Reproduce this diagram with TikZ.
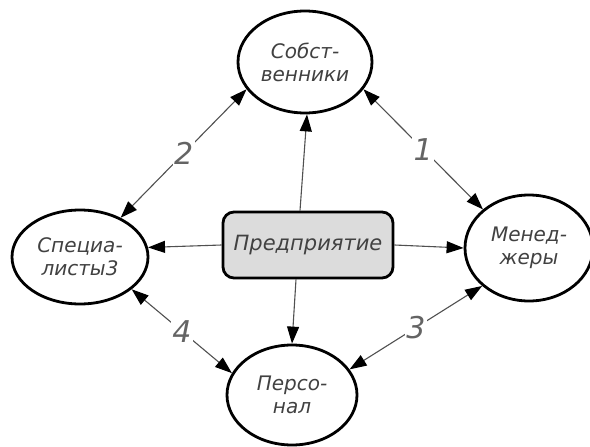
\documentclass[tikz,border=0pt]{standalone}
\usepackage{fontspec}
\setmainfont{DejaVu Sans}
\usetikzlibrary{shapes.geometric,arrows.meta}
\definecolor{txtgray}{RGB}{65,65,65}
\definecolor{linegray}{RGB}{80,80,80}
\definecolor{boxfill}{RGB}{220,220,220}
\definecolor{numgray}{RGB}{100,100,100}
\tikzset{
  party/.style={ellipse, draw=black, line width=2.8pt, fill=white, inner sep=0pt,
    align=center, text=txtgray, font=\fontsize{20}{23}\selectfont\itshape},
  centerbox/.style={rectangle, rounded corners=11pt, draw=black, line width=2.8pt,
    fill=boxfill, minimum width=170pt, minimum height=66pt, inner sep=0pt,
    text=txtgray, font=\fontsize{21}{24}\selectfont\itshape},
  conn/.style={draw=linegray, line width=1.1pt,
    -{Triangle[length=17pt,width=12pt,fill=black,color=black]}},
  dconn/.style={draw=linegray, line width=1.1pt,
    {Triangle[length=17pt,width=12pt,fill=black,color=black]}-{Triangle[length=17pt,width=12pt,fill=black,color=black]}},
  lbl/.style={fill=white, inner sep=1.5pt, text=numgray, font=\fontsize{30}{32}\selectfont\itshape}
}
\begin{document}
\begin{tikzpicture}[x=1pt,y=-1pt]
\useasboundingbox (0,0) rectangle (590,447);
\node[party, minimum width=134pt, minimum height=102pt] (S) at (305,62) {Собст-\\венники};
\node[party, minimum width=136pt, minimum height=94pt] (Sp) at (80,257) {Специа-\\листы3};
\node[party, minimum width=128pt, minimum height=106pt] (M) at (529,248) {Менед-\\жеры};
\node[party, minimum width=130pt, minimum height=100pt] (P) at (292,395) {Персо-\\нал};
\node[centerbox] (R) at (308,245) {Предприятие};

\draw[conn] ([xshift=-8pt]R.north) -- ([xshift=2pt]S.south);
\draw[conn] (R.west) -- (Sp.8);
\draw[conn] (R.east) -- (M.west);
\draw[conn] ([xshift=-12pt]R.south) -- (P.north);

\draw[dconn] (S.205) -- node[lbl] (n2) {2} (Sp.44);
\draw[dconn] (S.-25) -- node[lbl] (n1) {1} (M.140);
\draw[dconn] (M.219) -- node[lbl] (n3) {3} (P.24);
\draw[dconn] (Sp.-32) -- node[lbl] (n4) {4} (P.160);
\end{tikzpicture}
\end{document}
